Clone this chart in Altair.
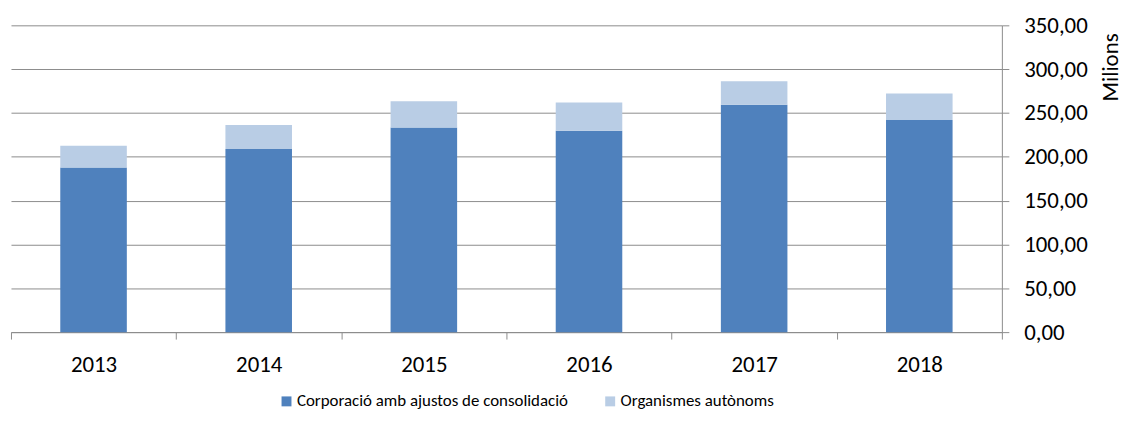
import altair as alt
import pandas as pd

years = ["2013", "2014", "2015", "2016", "2017", "2018"]
corporacio = [187.7, 208.9, 233.3, 229.6, 259.3, 242.0]
organismes = [24.9, 27.4, 30.2, 32.4, 26.8, 30.2]
series = ["Corporació amb ajustos de consolidació", "Organismes autònoms"]
colors = ["#4F81BD", "#B9CDE5"]
y_ticks = [0, 50, 100, 150, 200, 250, 300, 350]

rows = []
for i, y in enumerate(years):
    rows.append({"year": y, "serie": series[0], "value": corporacio[i], "ord": 0})
    rows.append({"year": y, "serie": series[1], "value": organismes[i], "ord": 1})
df = pd.DataFrame(rows)

FONT = "Carlito, Lato"
GRID = "#8c8c8c"

chart = alt.Chart(df).mark_bar(width=alt.RelativeBandSize(0.403)).encode(
    x=alt.X("year:N", sort=years,
            scale=alt.Scale(paddingInner=0, paddingOuter=0),
            axis=alt.Axis(title=None, labelAngle=0, tickBand="extent",
                          tickSize=7, tickColor=GRID, domainColor=GRID,
                          labelFontSize=23, labelFont=FONT, labelColor="#000000",
                          labelPadding=15, grid=False)),
    y=alt.Y("value:Q", stack="zero",
            scale=alt.Scale(domain=[0, 350], nice=False, zero=True),
            axis=alt.Axis(orient="right", values=y_ticks, grid=True,
                          gridColor=GRID, gridWidth=1, tickColor=GRID,
                          domainColor=GRID, tickSize=7,
                          labelExpr="replace(format(datum.value, '.2f'), '.', ',')",
                          labelFontSize=23, labelFont=FONT, labelColor="#000000",
                          labelPadding=15,
                          title="Milions", titleFont=FONT, titleFontSize=23,
                          titleFontWeight="normal", titleColor="#000000",
                          titleAngle=270, titleAlign="center",
                          titleBaseline="alphabetic", titleX=116, titleY=42)),
    color=alt.Color("serie:N",
                    scale=alt.Scale(domain=series, range=colors),
                    legend=alt.Legend(title=None, orient="none", direction="horizontal",
                                      legendX=269, legendY=370,
                                      symbolType="square", symbolSize=100,
                                      symbolStrokeWidth=0, labelFontSize=17,
                                      labelFont=FONT, labelColor="#000000",
                                      labelOffset=2, columnPadding=33,
                                      labelLimit=500, padding=0)),
    order=alt.Order("ord:Q", sort="ascending"),
).properties(
    width=998, height=309,
    autosize=alt.AutoSizeParams(type="none"),
    padding={"left": 3, "top": 16, "right": 123, "bottom": 80},
).configure_view(stroke=None)

chart.save("out.html", embed_options={"renderer": "svg", "actions": False})
